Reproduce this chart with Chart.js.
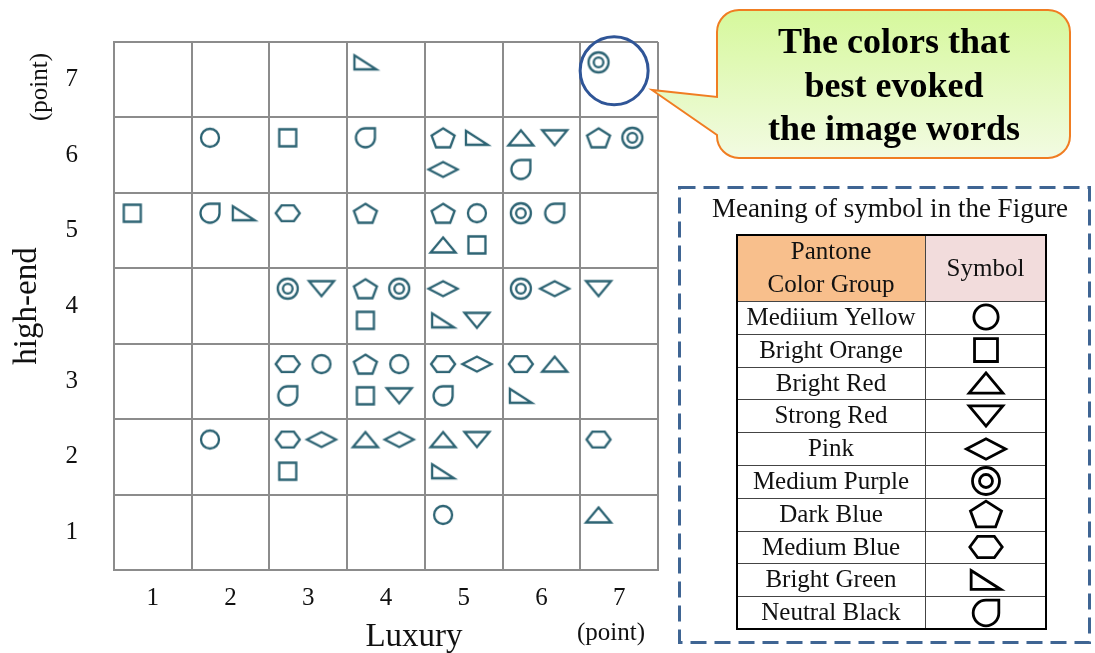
<!DOCTYPE html>
<html>
<head>
<meta charset="utf-8">
<script src="https://cdn.jsdelivr.net/npm/chart.js@4.4.1/dist/chart.umd.min.js"></script>
<style>
  html, body { margin: 0; padding: 0; background: #fff; }
  #wrap { width: 1095px; height: 653px; }
</style>
</head>
<body>
<div id="wrap"><canvas id="grafico" width="1095" height="653"></canvas></div>
<script>
// colour groups and the symbol used for each one (legend order)
const colorGroups = ['Mediium Yellow', 'Bright Orange', 'Bright Red', 'Strong Red', 'Pink',
  'Medium Purple', 'Dark Blue', 'Medium Blue', 'Bright Green', 'Neutral Black'];
const groupSymbols = ['circle', 'square', 'triUp', 'triDown', 'diamond',
  'doubleCircle', 'pentagon', 'hexagon', 'rightTri', 'drop'];

const luxuryTicks = [1, 2, 3, 4, 5, 6, 7];
const highEndTicks = [1, 2, 3, 4, 5, 6, 7];

// each cell of the grid: luxury score, high-end score, groups found there
// (listed top-left, top-right, bottom-left, bottom-right; null = empty spot)
const cellLuxury  = [4, 7, 2, 3, 4, 5, 6, 7, 1, 2, 3, 4, 5, 6, 3, 4, 5, 6, 7, 3, 4, 5, 6, 2, 3, 4, 5, 7, 5, 7];
const cellHighEnd = [7, 7, 6, 6, 6, 6, 6, 6, 5, 5, 5, 5, 5, 5, 4, 4, 4, 4, 4, 3, 3, 3, 3, 2, 2, 2, 2, 2, 1, 1];
const cellGroups = [
  ['Bright Green'],
  ['Medium Purple'],
  ['Mediium Yellow'],
  ['Bright Orange'],
  ['Neutral Black'],
  ['Dark Blue', 'Bright Green', 'Pink'],
  ['Bright Red', 'Strong Red', 'Neutral Black'],
  ['Dark Blue', 'Medium Purple'],
  ['Bright Orange'],
  ['Neutral Black', 'Bright Green'],
  ['Medium Blue'],
  ['Dark Blue'],
  ['Dark Blue', 'Mediium Yellow', 'Bright Red', 'Bright Orange'],
  ['Medium Purple', 'Neutral Black'],
  ['Medium Purple', 'Strong Red'],
  ['Dark Blue', 'Medium Purple', 'Bright Orange'],
  ['Pink', null, 'Bright Green', 'Strong Red'],
  ['Medium Purple', 'Pink'],
  ['Strong Red'],
  ['Medium Blue', 'Mediium Yellow', 'Neutral Black'],
  ['Dark Blue', 'Mediium Yellow', 'Bright Orange', 'Strong Red'],
  ['Medium Blue', 'Pink', 'Neutral Black'],
  ['Medium Blue', 'Bright Red', 'Bright Green'],
  ['Mediium Yellow'],
  ['Medium Blue', 'Pink', 'Bright Orange'],
  ['Bright Red', 'Pink'],
  ['Bright Red', 'Strong Red', 'Bright Green'],
  ['Medium Blue'],
  ['Mediium Yellow'],
  ['Bright Red']
];
const bestCell = [7, 7];
const calloutLines = ['The colors that', 'best evoked', 'the image words'];

const SERIF = "'Liberation Serif', 'Times New Roman', serif";
const MARK_COLOR = '#2c6373';
const GRID_COLOR = '#8c8c8c';

// spot offsets inside a cell, in axis units
const slotDx = [-0.265, 0.17];
const slotDy = [0.23, -0.19];

function symbolPath(ctx, name) {
  ctx.beginPath();
  switch (name) {
    case 'circle':
      ctx.arc(0, 0, 9, 0, Math.PI * 2);
      break;
    case 'square':
      ctx.rect(-8.5, -8.5, 17, 17);
      break;
    case 'triUp':
      ctx.moveTo(0, -7.5); ctx.lineTo(12.5, 7.5); ctx.lineTo(-12.5, 7.5); ctx.closePath();
      break;
    case 'triDown':
      ctx.moveTo(-12.5, -7.5); ctx.lineTo(12.5, -7.5); ctx.lineTo(0, 7.5); ctx.closePath();
      break;
    case 'diamond':
      ctx.moveTo(-14.5, 0); ctx.lineTo(0, -7.5); ctx.lineTo(14.5, 0); ctx.lineTo(0, 7.5); ctx.closePath();
      break;
    case 'doubleCircle':
      ctx.arc(0, 0, 10, 0, Math.PI * 2);
      ctx.moveTo(4.8, 0);
      ctx.arc(0, 0, 4.8, 0, Math.PI * 2);
      break;
    case 'pentagon':
      for (let k = 0; k < 5; k++) {
        const a = -Math.PI / 2 + k * 2 * Math.PI / 5;
        const px = 12.1 * Math.cos(a), py = 10.5 * Math.sin(a) + 1;
        if (k === 0) ctx.moveTo(px, py); else ctx.lineTo(px, py);
      }
      ctx.closePath();
      break;
    case 'hexagon':
      ctx.moveTo(-12, 0); ctx.lineTo(-6.2, -7.8); ctx.lineTo(6.2, -7.8);
      ctx.lineTo(12, 0); ctx.lineTo(6.2, 7.8); ctx.lineTo(-6.2, 7.8); ctx.closePath();
      break;
    case 'rightTri':
      ctx.moveTo(-11, -7); ctx.lineTo(11, 7); ctx.lineTo(-11, 7); ctx.closePath();
      break;
    case 'drop':
      ctx.moveTo(0, -9.5); ctx.lineTo(9.5, -9.5); ctx.lineTo(9.5, 0);
      ctx.arc(0, 0, 9.5, 0, Math.PI * 1.5);
      ctx.closePath();
      break;
  }
}

function makeIcon(name, color, scale, lineWidth) {
  const c = document.createElement('canvas');
  c.width = c.height = Math.ceil(40 * scale / 2) * 2;
  const g = c.getContext('2d');
  g.translate(c.width / 2, c.height / 2);
  g.scale(scale, scale);
  g.lineWidth = lineWidth / scale;
  g.strokeStyle = color;
  g.lineJoin = 'miter';
  symbolPath(g, name);
  g.stroke();
  return c;
}

const chartIcons = {};
const tableIcons = {};
colorGroups.forEach((grp, i) => {
  chartIcons[grp] = makeIcon(groupSymbols[i], MARK_COLOR, 1, 2.3);
  tableIcons[grp] = makeIcon(groupSymbols[i], '#000', 1.35, 2.8);
});

// one dataset per colour group
const datasets = colorGroups.map(grp => {
  const pts = [];
  cellGroups.forEach((list, c) => {
    list.forEach((g, slot) => {
      if (g !== grp) return;
      pts.push({ x: cellLuxury[c] + slotDx[slot % 2], y: cellHighEnd[c] + slotDy[Math.floor(slot / 2)] });
    });
  });
  return {
    label: grp,
    data: pts,
    pointStyle: chartIcons[grp],
    pointRadius: 10,
    showLine: false
  };
});

function gridColor(c) {
  return c.tick && Number.isInteger(c.tick.value) ? 'rgba(0,0,0,0)' : GRID_COLOR;
}

const extras = {
  id: 'extras',
  afterDraw(chart) {
    const { ctx } = chart;
    const xs = chart.scales.x, ys = chart.scales.y;
    ctx.save();

    // highlight ring on the best cell
    const hx = xs.getPixelForValue(bestCell[0]) - 5;
    const hy = ys.getPixelForValue(bestCell[1]) - 9;
    ctx.beginPath();
    ctx.arc(hx, hy, 34, 0, Math.PI * 2);
    ctx.strokeStyle = '#2f5597';
    ctx.lineWidth = 3;
    ctx.stroke();

    // callout bubble
    const L = 717, R = 1070, T = 10, B = 158, r = 22;
    ctx.beginPath();
    ctx.moveTo(L + r, T);
    ctx.lineTo(R - r, T);
    ctx.arcTo(R, T, R, T + r, r);
    ctx.lineTo(R, B - r);
    ctx.arcTo(R, B, R - r, B, r);
    ctx.lineTo(L + r, B);
    ctx.arcTo(L, B, L, B - r, r);
    ctx.lineTo(L, 135);
    ctx.lineTo(652, 90);
    ctx.lineTo(L, 97);
    ctx.lineTo(L, T + r);
    ctx.arcTo(L, T, L + r, T, r);
    ctx.closePath();
    const grad = ctx.createLinearGradient(0, T, 0, B);
    grad.addColorStop(0, '#d6f89c');
    grad.addColorStop(1, '#f2fbe2');
    ctx.fillStyle = grad;
    ctx.fill();
    ctx.strokeStyle = '#f07d22';
    ctx.lineWidth = 2;
    ctx.stroke();

    ctx.fillStyle = '#000';
    ctx.font = 'bold 36px ' + SERIF;
    ctx.textAlign = 'center';
    ctx.textBaseline = 'middle';
    calloutLines.forEach((t, i) => ctx.fillText(t, 894, 44 + i * 43.5));

    // axis words
    ctx.fillStyle = '#111';
    ctx.font = '33px ' + SERIF;
    ctx.fillText('Luxury', 414, 637);
    ctx.font = '25px ' + SERIF;
    ctx.fillText('(point)', 611, 633);
    ctx.save();
    ctx.translate(40, 87);
    ctx.rotate(-Math.PI / 2);
    ctx.fillText('(point)', 0, 0);
    ctx.restore();

    // dashed legend box
    ctx.setLineDash([16, 8]);
    ctx.strokeStyle = '#3f6593';
    ctx.lineWidth = 3;
    ctx.strokeRect(679.5, 187.5, 410, 455);
    ctx.setLineDash([]);

    ctx.fillStyle = '#111';
    ctx.font = '27px ' + SERIF;
    ctx.fillText('Meaning of symbol in the Figure', 890, 210);

    // legend table
    const tL = 737, tR = 1046, tM = 925, tT = 235, hB = 301, tB = 629;
    const rowH = (tB - hB) / colorGroups.length;
    ctx.fillStyle = '#f8bf8c';
    ctx.fillRect(tL, tT, tM - tL, hB - tT);
    ctx.fillStyle = '#f2dcdc';
    ctx.fillRect(tM, tT, tR - tM, hB - tT);

    ctx.strokeStyle = '#444';
    ctx.lineWidth = 1;
    ctx.beginPath();
    for (let i = 0; i < colorGroups.length; i++) {
      const yy = Math.round(hB + i * rowH) + 0.5;
      ctx.moveTo(tL, yy); ctx.lineTo(tR, yy);
    }
    ctx.moveTo(tM + 0.5, tT); ctx.lineTo(tM + 0.5, tB);
    ctx.stroke();
    ctx.strokeStyle = '#000';
    ctx.lineWidth = 2;
    ctx.strokeRect(tL, tT, tR - tL, tB - tT);

    ctx.fillStyle = '#111';
    ctx.font = '25px ' + SERIF;
    ctx.fillText('Pantone', (tL + tM) / 2, 252);
    ctx.fillText('Color Group', (tL + tM) / 2, 285);
    ctx.fillText('Symbol', (tM + tR) / 2, 269);
    colorGroups.forEach((grp, i) => {
      const cy = hB + (i + 0.5) * rowH;
      ctx.fillText(grp, (tL + tM) / 2, cy + 1);
      const icon = tableIcons[grp];
      ctx.drawImage(icon, Math.round((tM + tR) / 2 - icon.width / 2), Math.round(cy - icon.height / 2));
    });

    ctx.restore();
  }
};

new Chart(document.getElementById('grafico'), {
  type: 'scatter',
  data: { datasets },
  plugins: [extras],
  options: {
    responsive: false,
    devicePixelRatio: 1,
    animation: false,
    events: [],
    layout: { padding: { left: 0, top: 42, right: 437, bottom: 0 } },
    plugins: { legend: { display: false }, tooltip: { enabled: false } },
    scales: {
      x: {
        type: 'linear',
        min: 0.5,
        max: 7.5,
        afterFit: s => { s.height = 83; s.paddingLeft = 0; s.paddingRight = 0; },
        ticks: {
          stepSize: 0.5,
          autoSkip: false,
          maxRotation: 0,
          padding: 13,
          color: '#111',
          font: { family: SERIF, size: 25 },
          callback: v => luxuryTicks.includes(v) ? String(v) : ''
        },
        grid: { drawTicks: false, lineWidth: 2, color: gridColor },
        border: { color: GRID_COLOR, width: 2 }
      },
      y: {
        type: 'linear',
        min: 0.5,
        max: 7.5,
        afterFit: s => { s.width = 114; s.paddingTop = 0; s.paddingBottom = 0; },
        title: {
          display: true,
          text: 'high-end',
          color: '#111',
          font: { family: SERIF, size: 33 },
          padding: { top: 8, bottom: 0 }
        },
        ticks: {
          stepSize: 0.5,
          autoSkip: false,
          padding: 36,
          color: '#111',
          font: { family: SERIF, size: 25 },
          callback: v => highEndTicks.includes(v) ? String(v) : ''
        },
        grid: { drawTicks: false, lineWidth: 2, color: gridColor },
        border: { color: GRID_COLOR, width: 2 }
      }
    }
  }
});
</script>
</body>
</html>
